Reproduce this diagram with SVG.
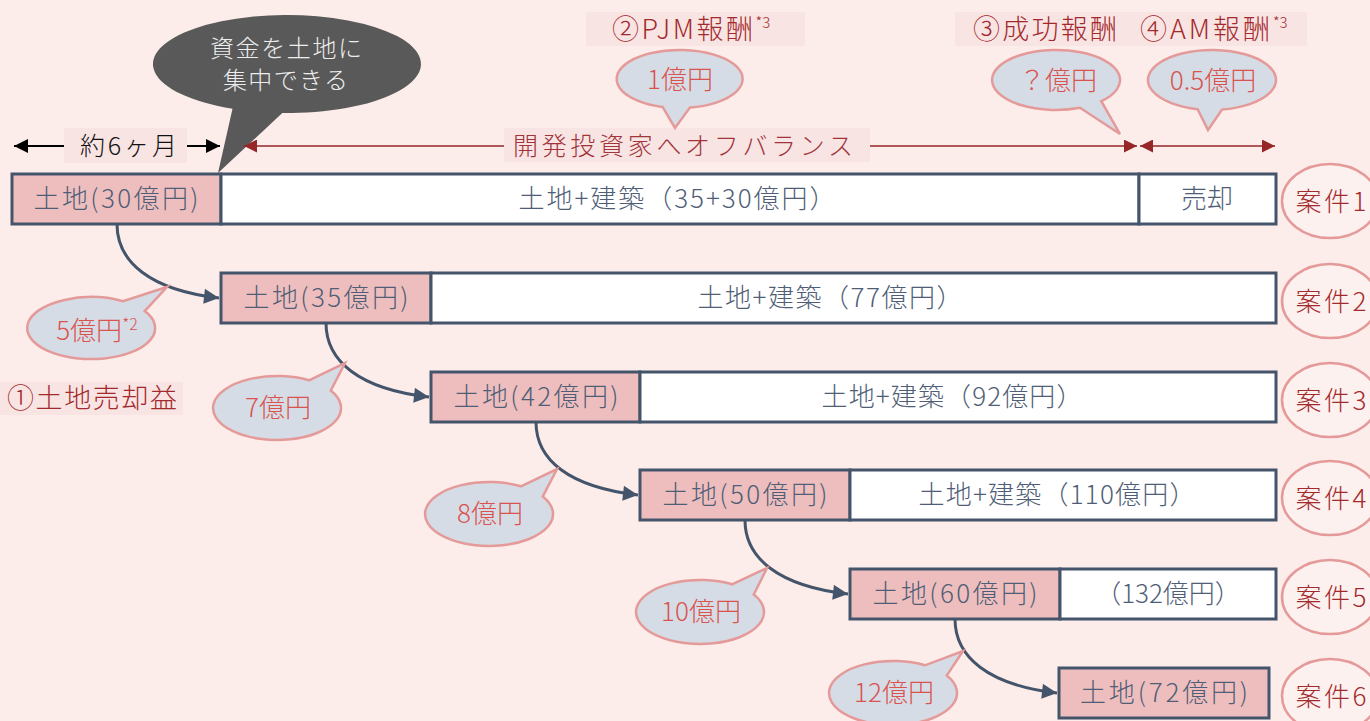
<svg xmlns="http://www.w3.org/2000/svg" width="1370" height="721" viewBox="0 0 1370 721">
<defs>
<style>
text{font-family:"Noto Sans CJK JP","Noto Sans",sans-serif;font-weight:300;}
.land{fill:#EEBEBE;stroke:#44546A;stroke-width:3;}
.blank{fill:#FFFFFF;stroke:#44546A;stroke-width:3;}
.bt{font-size:26px;fill:#4F5E76;text-anchor:middle;}
.case{fill:#FDF1F0;stroke:#E59A9A;stroke-width:2.5;}
.ct{font-size:26px;fill:#A32A2C;text-anchor:middle;}
.call{fill:#D6DCE5;stroke:#E59A9A;stroke-width:2.5;stroke-linejoin:miter;}
.callt{font-size:26px;fill:#D9534F;text-anchor:middle;}
.lbl{font-size:27px;fill:#A32A2C;}
.lblbg{fill:#F9E4E4;}
.conn{fill:none;stroke:#44546A;stroke-width:3;}
</style>
<marker id="arr" viewBox="0 0 10 10" refX="10" refY="5" markerUnits="userSpaceOnUse" markerWidth="17" markerHeight="15" orient="auto"><path d="M0,0 L10,5 L0,10 z" fill="#44546A"/></marker>
<marker id="blk" viewBox="0 0 10 10" refX="10" refY="5" markerUnits="userSpaceOnUse" markerWidth="18" markerHeight="14" orient="auto-start-reverse"><path d="M0,0 L10,5 L0,10 z" fill="#000"/></marker>
<marker id="red" viewBox="0 0 10 10" refX="10" refY="5" markerUnits="userSpaceOnUse" markerWidth="16" markerHeight="13" orient="auto-start-reverse"><path d="M0,0 L10,5 L0,10 z" fill="#962628"/></marker>
</defs>
<rect x="0" y="0" width="1370" height="721" fill="#FCEDEB"/>

<!-- top labels -->
<g id="label-pjm">
<rect class="lblbg" x="586" y="12" width="219" height="34"/>
<text class="lbl" x="612" y="39"><tspan textLength="141" lengthAdjust="spacing">②PJM報酬</tspan><tspan font-size="15" dy="-11">*3</tspan></text>
</g>
<g id="label-success-am">
<rect class="lblbg" x="955" y="12" width="352" height="34"/>
<text class="lbl" x="973" y="39" textLength="144" lengthAdjust="spacing">③成功報酬</text>
<text class="lbl" x="1140" y="39"><tspan textLength="130" lengthAdjust="spacing">④AM報酬</tspan><tspan font-size="15" dy="-11">*3</tspan></text>
</g>
<g id="label-land-gain">
<rect class="lblbg" x="0" y="382" width="183" height="33"/>
<text class="lbl" x="7" y="408" textLength="170" lengthAdjust="spacing">①土地売却益</text>
</g>

<!-- dark callout -->
<g id="callout-focus">
<path d="M232.5,108.8 A134,49 0 1 1 282.3,113 L218,173 Z" fill="#595959"/>
<text font-size="24" fill="#EDEDED" x="210" y="57" textLength="152" lengthAdjust="spacing">資金を土地に</text>
<text font-size="24" fill="#EDEDED" x="223" y="89" textLength="125" lengthAdjust="spacing">集中できる</text>
</g>

<!-- timeline arrows -->
<g id="timeline">
<path d="M14,146 L220,146" stroke="#000" stroke-width="2" marker-start="url(#blk)" marker-end="url(#blk)"/>
<rect class="lblbg" x="64" y="128" width="123" height="35"/>
<text font-size="25" fill="#111" x="80" y="155" textLength="97" lengthAdjust="spacing">約6ヶ月</text>
<path d="M244,146 L1137,146" stroke="#962628" stroke-width="1.5" marker-start="url(#red)" marker-end="url(#red)"/>
<path d="M1140,146 L1275,146" stroke="#962628" stroke-width="1.5" marker-start="url(#red)" marker-end="url(#red)"/>
<rect class="lblbg" x="504" y="128" width="366" height="34"/>
<text font-size="25" fill="#A0343A" x="513" y="155" textLength="340" lengthAdjust="spacing">開発投資家へオフバランス</text>
</g>

<!-- top callouts -->
<g id="callout-pjm">
<path class="call" d="M662.6,106.9 A63,29 0 1 1 689.9,107.6 L675,128 Z"/>
<text class="callt" x="680" y="89">1億円</text>
</g>
<g id="callout-success">
<path class="call" d="M1080,107.8 A64,30 0 1 1 1101.3,101.2 L1120,134 Z"/>
<text class="callt" x="1058" y="90">？億円</text>
</g>
<g id="callout-am">
<path class="call" d="M1197.6,109.2 A64,30 0 1 1 1222,109.6 L1208,130 Z"/>
<text class="callt" x="1213" y="90">0.5億円</text>
</g>

<!-- rows -->
<g id="case1">
<rect class="land" x="12" y="174" width="209" height="50"/>
<rect class="blank" x="221" y="174" width="918" height="50"/>
<rect class="blank" x="1139" y="174" width="137" height="50"/>
<text class="bt" x="116" y="208" textLength="165" lengthAdjust="spacing">土地(30億円)</text>
<text class="bt" x="677" y="208" textLength="317" lengthAdjust="spacing">土地+建築（35+30億円）</text>
<text class="bt" x="1207" y="208">売却</text>
<ellipse class="case" cx="1330" cy="201" rx="48" ry="37"/>
<text class="ct" x="1331" y="211" textLength="71" lengthAdjust="spacing">案件1</text>
</g>
<g id="case2">
<rect class="land" x="221" y="273" width="210" height="50"/>
<rect class="blank" x="431" y="273" width="845" height="50"/>
<text class="bt" x="326" y="307" textLength="165" lengthAdjust="spacing">土地(35億円)</text>
<text class="bt" x="830" y="307" textLength="265" lengthAdjust="spacing">土地+建築（77億円）</text>
<ellipse class="case" cx="1330" cy="301" rx="48" ry="37"/>
<text class="ct" x="1331" y="311" textLength="71" lengthAdjust="spacing">案件2</text>
</g>
<g id="case3">
<rect class="land" x="431" y="372" width="209" height="50"/>
<rect class="blank" x="640" y="372" width="636" height="50"/>
<text class="bt" x="536" y="406" textLength="165" lengthAdjust="spacing">土地(42億円)</text>
<text class="bt" x="952" y="406" textLength="261" lengthAdjust="spacing">土地+建築（92億円）</text>
<ellipse class="case" cx="1330" cy="400" rx="48" ry="37"/>
<text class="ct" x="1331" y="410" textLength="71" lengthAdjust="spacing">案件3</text>
</g>
<g id="case4">
<rect class="land" x="640" y="470" width="210" height="50"/>
<rect class="blank" x="850" y="470" width="426" height="50"/>
<text class="bt" x="745" y="504" textLength="165" lengthAdjust="spacing">土地(50億円)</text>
<text class="bt" x="1057" y="504" textLength="277" lengthAdjust="spacing">土地+建築（110億円）</text>
<ellipse class="case" cx="1330" cy="498" rx="48" ry="37"/>
<text class="ct" x="1331" y="508" textLength="71" lengthAdjust="spacing">案件4</text>
</g>
<g id="case5">
<rect class="land" x="850" y="569" width="210" height="50"/>
<rect class="blank" x="1060" y="569" width="216" height="50"/>
<text class="bt" x="955" y="603" textLength="165" lengthAdjust="spacing">土地(60億円)</text>
<text class="bt" x="1168" y="603">（132億円）</text>
<ellipse class="case" cx="1330" cy="597" rx="48" ry="37"/>
<text class="ct" x="1331" y="607" textLength="71" lengthAdjust="spacing">案件5</text>
</g>
<g id="case6">
<rect class="land" x="1059" y="668" width="210" height="50"/>
<text class="bt" x="1164" y="702" textLength="168" lengthAdjust="spacing">土地(72億円)</text>
<ellipse class="case" cx="1330" cy="696" rx="48" ry="37"/>
<text class="ct" x="1331" y="706" textLength="71" lengthAdjust="spacing">案件6</text>
</g>

<!-- connectors -->
<g id="connectors">
<path class="conn" d="M117,224 C117,262 150,290 219,298" marker-end="url(#arr)"/>
<path class="conn" d="M326,323 C326,361 359,389 429,397" marker-end="url(#arr)"/>
<path class="conn" d="M536,422 C536,460 569,487 638,495" marker-end="url(#arr)"/>
<path class="conn" d="M745,520 C745,558 778,586 848,594" marker-end="url(#arr)"/>
<path class="conn" d="M955,619 C955,657 988,685 1057,693" marker-end="url(#arr)"/>
</g>

<!-- gain callouts -->
<g id="callout-5">
<path class="call" d="M144.7,311.1 A64,31 0 1 1 123,301.2 L167,287 Z"/>
<text class="callt" x="97" y="340">5億円<tspan font-size="16" dy="-10">*2</tspan></text>
</g>
<g id="callout-7">
<path class="call" d="M330.7,390.6 A64,32 0 1 1 309,380.3 L345,363 Z"/>
<text class="callt" x="278" y="417">7億円</text>
</g>
<g id="callout-8">
<path class="call" d="M542.7,496.6 A64,32 0 1 1 521,486.3 L557,469 Z"/>
<text class="callt" x="490" y="523">8億円</text>
</g>
<g id="callout-10">
<path class="call" d="M753.7,594.6 A64,32 0 1 1 732,584.3 L767,568 Z"/>
<text class="callt" x="701" y="621">10億円</text>
</g>
<g id="callout-12">
<path class="call" d="M946.7,675.6 A64,32 0 1 1 925,665.3 L963,651 Z"/>
<text class="callt" x="894" y="702">12億円</text>
</g>
</svg>
